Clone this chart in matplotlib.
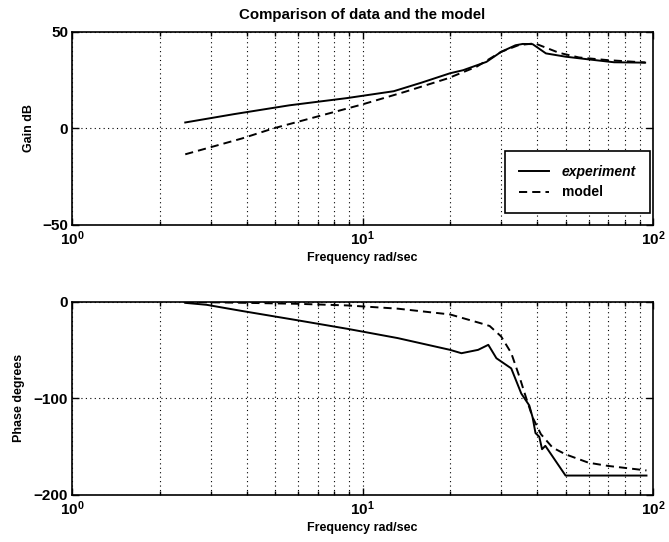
import numpy as np
import matplotlib
matplotlib.use("Agg")
import matplotlib.pyplot as plt

# gain data (dB)
f_gain_exp = [2.45, 3.6, 5.6, 8.8, 12.8, 16, 20, 22.2, 26.7, 30, 33.6, 35.6, 38.5, 42.8, 50, 60, 73.5, 94]
gain_exp = [3.1, 7.4, 12, 15.7, 19.3, 23.8, 28.6, 30.2, 34.5, 39.7, 43.1, 43.8, 43.7, 38.9, 37.2, 35.8, 34.3, 34.1]
f_gain_mod = [2.45, 3.84, 4.92, 10, 14, 19.6, 24.7, 30, 34.5, 39.2, 47.5, 55.6, 70, 94]
gain_mod = [-13.4, -5.2, 0, 12.5, 19, 25.9, 32, 39.7, 43.2, 44.1, 39.2, 36.8, 35.4, 34.2]

# phase data (degrees)
f_ph_exp = [2.45, 2.9, 3.84, 5.9, 8.9, 13.2, 20, 21.9, 25, 27.1, 28.9, 32.5, 35.2, 37.5,
            38.5, 39.4, 40.6, 41.5, 42.6, 50, 95]
ph_exp = [-1, -3, -9.4, -18.8, -28, -37.5, -49.7, -53.2, -49.7, -44.5, -58.4, -68.9, -95, -107.3,
          -119.6, -136, -139.8, -152.7, -149.2, -180, -180]
f_ph_mod = [2.45, 4, 6, 8.9, 13.2, 20, 25.3, 27.4, 30, 32.5, 34.7, 36.5, 38.5, 41.1, 45.1,
            50, 60, 70, 95]
ph_mod = [0, -1, -2, -3.7, -7, -13, -21.8, -25, -35.8, -53, -77.7, -98.6, -119.6, -137, -151,
          -158, -166.7, -170, -174.7]

plt.rcParams['font.family'] = ['Liberation Sans', 'DejaVu Sans']
plt.rcParams['font.weight'] = 'bold'
plt.rcParams['axes.titleweight'] = 'bold'
plt.rcParams['axes.labelweight'] = 'bold'
plt.rcParams['font.size'] = 9
plt.rcParams['mathtext.fontset'] = 'custom'
plt.rcParams['mathtext.rm'] = 'Liberation Sans:bold'
plt.rcParams['mathtext.it'] = 'Liberation Sans:bold'
plt.rcParams['mathtext.bf'] = 'Liberation Sans:bold'

fig = plt.figure(figsize=(6.69, 5.42), dpi=100)
ax1 = fig.add_axes([0.108, 0.585, 0.868, 0.356])
ax2 = fig.add_axes([0.108, 0.087, 0.868, 0.356])

dash = (0, (4.2, 2.6))
grid_style = dict(color='black', linestyle=(0, (1, 3)), linewidth=0.8)


def style_axes(ax, yticks):
    ax.set_xscale('log')
    ax.set_xlim(1, 100)
    ax.set_yticks(yticks)
    ax.set_xticks([1, 10, 100])
    ax.set_xticklabels(['$10^0$', '$10^1$', '$10^2$'])
    ax.xaxis.set_minor_formatter(matplotlib.ticker.NullFormatter())
    ax.grid(True, which='both', axis='x', **grid_style)
    ax.grid(True, which='major', axis='y', **grid_style)
    ax.tick_params(which='both', direction='in', top=True, right=True, width=1, labelsize=11)
    ax.tick_params(which='major', length=5, pad=3)
    ax.tick_params(which='minor', length=3)
    for s in ax.spines.values():
        s.set_linewidth(1.2)
    ax.set_xlabel('Frequency rad/sec', labelpad=3)


ax1.plot(f_gain_exp, gain_exp, color='black', linewidth=1.4, label='experiment')
ax1.plot(f_gain_mod, gain_mod, color='black', linewidth=1.4, linestyle=dash, label='model')
ax1.set_ylim(-50, 50)
style_axes(ax1, [-50, 0, 50])
ax1.set_ylabel('Gain dB')
ax1.yaxis.set_label_coords(-0.065, 0.5)
ax1.set_title('Comparison of data and the model', pad=9)
leg = ax1.legend(loc='lower right', bbox_to_anchor=(0.995, 0.06), frameon=True, fancybox=False,
                 edgecolor='black', framealpha=1, handlelength=2.2, borderpad=1.0,
                 labelspacing=0.5, handletextpad=0.9, borderaxespad=0, fontsize=10)
leg.get_frame().set_linewidth(1.2)
leg.get_texts()[0].set_style('italic')

ax2.plot(f_ph_exp, ph_exp, color='black', linewidth=1.4)
ax2.plot(f_ph_mod, ph_mod, color='black', linewidth=1.4, linestyle=dash)
ax2.set_ylim(-200, 0)
style_axes(ax2, [-200, -100, 0])
ax2.set_ylabel('Phase degrees')
ax2.yaxis.set_label_coords(-0.082, 0.5)

fig.savefig('out.png', dpi=100)
